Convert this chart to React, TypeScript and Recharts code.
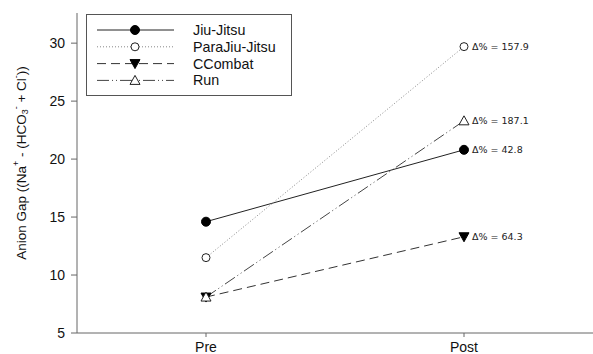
import React from 'react';
import { LineChart, Line, XAxis, YAxis, LabelList } from 'recharts';

// Time points
const categories = ['Pre', 'Post'];

// Anion gap per group at each time point
const jiuJitsu = [14.6, 20.8];
const paraJiuJitsu = [11.5, 29.7];
const cCombat = [8.1, 13.3];
const run = [8.1, 23.3];

// Percent change Pre -> Post, printed beside the Post markers
const deltaPct = [42.8, 157.9, 64.3, 187.1];

const yTicks = [5, 10, 15, 20, 25, 30];

type MarkerKind = 'dot' | 'ring' | 'down' | 'up';

const seriesDefs = [
  { key: 'jj', name: 'Jiu-Jitsu', values: jiuJitsu, delta: deltaPct[0], dash: undefined as string | undefined, stroke: '#222', marker: 'dot' as MarkerKind },
  { key: 'pjj', name: 'ParaJiu-Jitsu', values: paraJiuJitsu, delta: deltaPct[1], dash: '1 2', stroke: '#888', marker: 'ring' as MarkerKind },
  { key: 'cc', name: 'CCombat', values: cCombat, delta: deltaPct[2], dash: '9 5', stroke: '#333', marker: 'down' as MarkerKind },
  { key: 'run', name: 'Run', values: run, delta: deltaPct[3], dash: '12 3 1 3 1 3', stroke: '#444', marker: 'up' as MarkerKind },
];

const data = categories.map((cat, i) => {
  const row: Record<string, string | number> = { cat };
  seriesDefs.forEach((s) => {
    row[s.key] = s.values[i];
    row[s.key + 'Label'] = i === categories.length - 1 ? `Δ% = ${s.delta}` : '';
  });
  return row;
});

const FONT = 'Liberation Sans, Arial, sans-serif';

function Marker({ kind, cx, cy }: { kind: MarkerKind; cx: number; cy: number }) {
  switch (kind) {
    case 'dot':
      return <circle cx={cx} cy={cy} r={4.5} fill="#000" stroke="#000" />;
    case 'ring':
      return <circle cx={cx} cy={cy} r={4} fill="#fff" stroke="#222" strokeWidth={1} />;
    case 'down':
      return (
        <polygon
          points={`${cx - 5},${cy - 4} ${cx + 5},${cy - 4} ${cx},${cy + 5}`}
          fill="#000"
          stroke="#000"
        />
      );
    case 'up':
    default:
      return (
        <polygon
          points={`${cx},${cy - 5} ${cx - 5},${cy + 4} ${cx + 5},${cy + 4}`}
          fill="#fff"
          stroke="#222"
          strokeWidth={1}
        />
      );
  }
}

function LegendBox() {
  return (
    <div
      style={{
        position: 'absolute',
        left: 86,
        top: 14,
        width: 206,
        height: 82,
        border: '1px solid #555',
        background: '#fff',
        boxSizing: 'border-box',
      }}
    >
      <svg width={204} height={80} style={{ display: 'block' }}>
        {seriesDefs.map((s, i) => {
          const y = 15 + i * 16.8;
          return (
            <g key={s.key}>
              <line x1={10} x2={87} y1={y} y2={y} stroke={s.stroke} strokeWidth={1} strokeDasharray={s.dash} />
              <Marker kind={s.marker} cx={48} cy={y} />
              <text x={106} y={y} dy="0.35em" fontFamily={FONT} fontSize={14.3} fill="#111">
                {s.name}
              </text>
            </g>
          );
        })}
      </svg>
    </div>
  );
}

function YLabel(props: any) {
  const vb = props.viewBox || { x: 0, y: 13, width: 77, height: 320 };
  const cx = 21;
  const cy = vb.y + vb.height / 2 - 10;
  return (
    <text
      transform={`translate(${cx}, ${cy}) rotate(-90)`}
      textAnchor="middle"
      dominantBaseline="central"
      fontFamily={FONT}
      fontSize={13.5}
      fill="#111"
    >
      <tspan>Anion Gap ((Na</tspan>
      <tspan dy={-5} fontSize={9}>+</tspan>
      <tspan dy={5}> - (HCO</tspan>
      <tspan dy={4} fontSize={9}>3</tspan>
      <tspan dy={-9} fontSize={9}>-</tspan>
      <tspan dy={5}> + Cl</tspan>
      <tspan dy={-5} fontSize={9}>-</tspan>
      <tspan dy={5}>))</tspan>
    </text>
  );
}

function DeltaLabel(props: any) {
  const { x, y, value } = props;
  if (!value) return null;
  return (
    <text
      x={Number(x) + 8}
      y={Number(y)}
      dy="0.35em"
      fontFamily="DejaVu Sans, Verdana, sans-serif"
      fontSize={9.5}
      fill="#222"
    >
      {value}
    </text>
  );
}

export default function App() {
  return (
    <div style={{ position: 'absolute', left: 0, top: 0, width: 593, height: 354, background: '#fff' }}>
      <LineChart width={593} height={354} data={data} margin={{ top: 13, right: 0, bottom: 0, left: 0 }}>
        <XAxis
          dataKey="cat"
          scale="band"
          height={21}
          axisLine={{ stroke: '#666' }}
          tickLine={{ stroke: '#666' }}
          tickSize={4}
          tickMargin={5}
          tick={{ fill: '#111', fontSize: 14, fontFamily: FONT }}
        />
        <YAxis
          type="number"
          domain={[5, 32.6]}
          ticks={yTicks}
          allowDataOverflow
          width={77}
          axisLine={{ stroke: '#666' }}
          tickLine={{ stroke: '#666' }}
          tickSize={6}
          tickMargin={6}
          tick={{ fill: '#111', fontSize: 14, fontFamily: FONT }}
          label={<YLabel />}
        />
        {seriesDefs.map((s) => (
          <Line
            key={s.key}
            dataKey={s.key}
            name={s.name}
            type="linear"
            stroke={s.stroke}
            strokeWidth={1}
            strokeDasharray={s.dash}
            isAnimationActive={false}
            dot={(p: any) => <Marker key={`${s.key}-${p.index}`} kind={s.marker} cx={p.cx} cy={p.cy} />}
            activeDot={false}
          >
            <LabelList dataKey={s.key + 'Label'} content={<DeltaLabel />} />
          </Line>
        ))}
      </LineChart>
      <LegendBox />
    </div>
  );
}
